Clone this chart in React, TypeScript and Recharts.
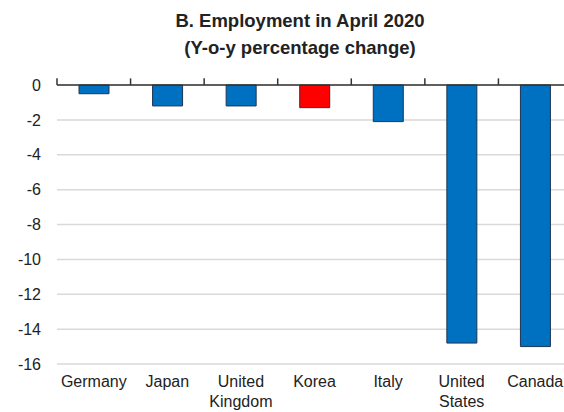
import React from "react";
import { BarChart, Bar, XAxis, YAxis, CartesianGrid, Cell, ReferenceLine } from "recharts";

const countries = ["Germany", "Japan", "United Kingdom", "Korea", "Italy", "United States", "Canada"];
const employmentChange = [-0.5, -1.2, -1.2, -1.3, -2.1, -14.8, -15.0];
const highlighted = ["Korea"];
const yTicks = [0, -2, -4, -6, -8, -10, -12, -14, -16];
const tickMarkHeight = 0.38;

const data = countries.map((c, i) => ({ country: c, value: employmentChange[i] }));

const FONT = "'Liberation Sans', Arial, sans-serif";

const CountryTick = (props: any) => {
  const { x, y, payload } = props;
  const words = String(payload.value).split(" ");
  return (
    <g transform={`translate(${x},${y})`}>
      {words.map((w: string, i: number) => (
        <text
          key={i}
          x={0}
          y={0}
          dy={15 + i * 20}
          textAnchor="middle"
          fontSize={16}
          fontFamily={FONT}
          fill="#222"
        >
          {w}
        </text>
      ))}
    </g>
  );
};

export default function App() {
  return (
    <div
      style={{
        position: "absolute",
        left: 0,
        top: 0,
        width: 564,
        height: 412,
        overflow: "hidden",
        background: "#fff",
        fontFamily: FONT,
      }}
    >
      <div
        style={{
          position: "absolute",
          left: 0,
          width: 600,
          top: 7,
          textAlign: "center",
          fontWeight: "bold",
          fontSize: 18.5,
          lineHeight: "27px",
          color: "#222",
          zIndex: 2,
          pointerEvents: "none",
        }}
      >
        <div>B. Employment in April 2020</div>
        <div>(Y-o-y percentage change)</div>
      </div>
      <BarChart
        width={600}
        height={412}
        data={data}
        margin={{ top: 85, right: 28, bottom: 8, left: 0 }}
      >
        <CartesianGrid vertical={false} stroke="#d9d9d9" strokeWidth={1.5} />
        <XAxis
          dataKey="country"
          height={40}
          axisLine={false}
          tickLine={false}
          interval={0}
          tick={<CountryTick />}
        />
        <YAxis
          domain={[-16, 0]}
          ticks={yTicks}
          width={57}
          axisLine={false}
          tickLine={false}
          tickSize={0}
          tickMargin={16}
          interval={0}
          tick={{ fontSize: 16, fill: "#222", fontFamily: FONT }}
        />
        <Bar
          dataKey="value"
          barSize={30}
          stroke="#1e3650"
          strokeWidth={1}
          isAnimationActive={false}
        >
          {data.map((d, i) => (
            <Cell key={i} fill={highlighted.includes(d.country) ? "#ff0000" : "#0070c0"} />
          ))}
        </Bar>
        <ReferenceLine y={0} stroke="#333" strokeWidth={1.5} ifOverflow="visible" />
        {countries.map((c) => (
          <ReferenceLine
            key={"s" + c}
            segment={[
              { x: c, y: 0 },
              { x: c, y: tickMarkHeight },
            ]}
            position="start"
            ifOverflow="visible"
            stroke="#333"
            strokeWidth={1.5}
          />
        ))}
        <ReferenceLine
          segment={[
            { x: countries[countries.length - 1], y: 0 },
            { x: countries[countries.length - 1], y: tickMarkHeight },
          ]}
          position="end"
          ifOverflow="visible"
          stroke="#333"
          strokeWidth={1.5}
        />
      </BarChart>
    </div>
  );
}
